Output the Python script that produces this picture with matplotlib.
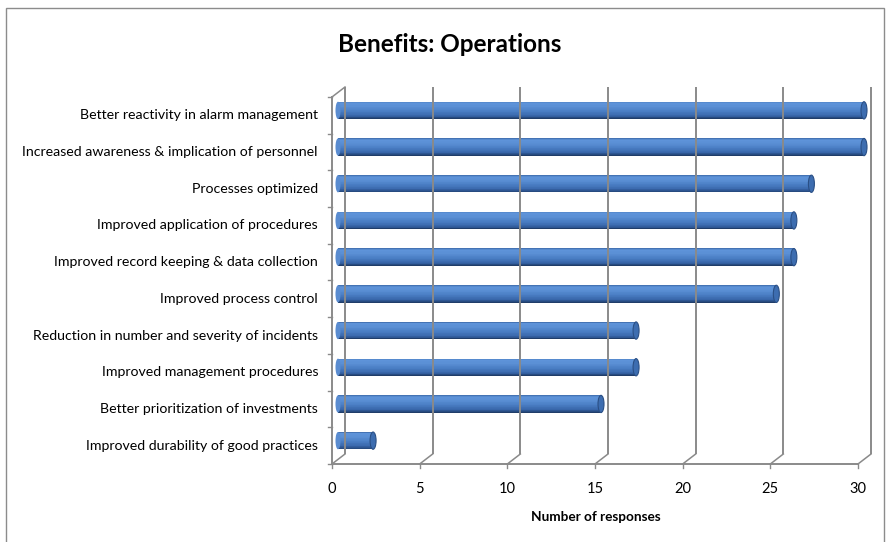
import matplotlib
matplotlib.use("Agg")
import matplotlib.pyplot as plt
import numpy as np
from matplotlib.transforms import offset_copy
from matplotlib.patches import Ellipse, Rectangle
from matplotlib.colors import LinearSegmentedColormap

plt.rcParams['font.family'] = ['Lato', 'DejaVu Sans']

# ---------------- data ----------------
categories = [
    "Better reactivity in alarm management",
    "Increased awareness & implication of personnel",
    "Processes optimized",
    "Improved application of procedures",
    "Improved record keeping & data collection",
    "Improved process control",
    "Reduction in number and severity of incidents",
    "Improved management procedures",
    "Better prioritization of investments",
    "Improved durability of good practices",
]
values = [30, 30, 27, 26, 26, 25, 17, 17, 15, 2]
xticks = [0, 5, 10, 15, 20, 25, 30]
title = "Benefits: Operations"
xlabel = "Number of responses"

W, H = 890, 542
fig = plt.figure(figsize=(W / 100, H / 100), dpi=100)

# chart border
fig.patches.append(Rectangle((6 / W, -0.01), (884 - 6) / W, (H - 8) / H + 0.01,
                             transform=fig.transFigure, fill=False,
                             edgecolor='#8c8c8c', lw=1.0))

# front plane of the plot area
x0, x1 = 332, 858
ytop, ybot = 97, 464
ax = fig.add_axes([x0 / W, (H - ybot) / H, (x1 - x0) / W, (ybot - ytop) / H])
ax.set_xlim(0, 30)
ax.set_ylim(-0.5, len(categories) - 0.5)
ax.axis('off')

grid_c = '#8a8a8a'
DX, DY = 13, 10  # depth offset in pixels
back = offset_copy(ax.transData, fig=fig, x=DX, y=DY, units='dots')
mid = offset_copy(ax.transData, fig=fig, x=6, y=5, units='dots')

ylo, yhi = -0.5, len(categories) - 0.5
# back wall gridlines
for v in xticks:
    ax.plot([v, v], [ylo, yhi], color=grid_c, lw=1.4, transform=back,
            solid_capstyle='butt', clip_on=False)
# floor diagonals
ppu_x = (x1 - x0) / 30.0
ppu_y = (ybot - ytop) / (yhi - ylo)
for v in xticks:
    ax.plot([v, v + DX / ppu_x], [ylo, ylo + DY / ppu_y], color=grid_c, lw=1.1,
            clip_on=False)
# left wall top diagonal
ax.plot([0, DX / ppu_x], [yhi, yhi + DY / ppu_y], color=grid_c, lw=1.1, clip_on=False)
# front axes lines
ax.plot([0, 30], [ylo, ylo], color=grid_c, lw=1.4, clip_on=False)
ax.plot([0, 0], [ylo, yhi], color=grid_c, lw=1.4, clip_on=False)
# ticks
for v in xticks:
    ax.plot([v, v], [ylo, ylo - 4 / ppu_y], color=grid_c, lw=1.0, clip_on=False)
for k in range(len(categories) + 1):
    yy = ylo + k
    ax.plot([0, -4 / ppu_x], [yy, yy], color=grid_c, lw=1.0, clip_on=False)

# cylinder bars
cmap = LinearSegmentedColormap.from_list('cyl', [
    (0.0, '#3b69a8'), (0.08, '#5e93d9'), (0.30, '#5a8fd4'), (0.55, '#4a7ec4'),
    (0.80, '#3a69ad'), (0.92, '#2b528c'), (1.0, '#1c365e')])
bh = 0.47
N = 24
n = len(categories)
for i, (cat, val) in enumerate(zip(categories, values)):
    yc = n - 1 - i
    top = yc + bh / 2
    for s in range(N):
        t = (s + 0.5) / N
        y_s = top - (s + 0.5) * bh / N
        ax.barh(y_s, val, height=bh / N * 1.15, left=0, color=cmap(t),
                linewidth=0, transform=mid, clip_on=False)
    ax.add_patch(Ellipse((0, yc), width=5 / ppu_x, height=bh, facecolor='#5a8cd0',
                         edgecolor='none', transform=mid, clip_on=False))
    ax.add_patch(Ellipse((val, yc), width=6 / ppu_x, height=bh, facecolor='#3d6db0',
                         edgecolor='#2a4f85', lw=0.8, transform=mid, clip_on=False))
    # category label
    ax.text(-14 / ppu_x, yc, cat, ha='right', va='center', fontsize=10.2, color='#000000')

# x tick labels
for v in xticks:
    ax.text(v, ylo - 25 / ppu_y, str(v), ha='center', va='center', fontsize=10.5)

fig.text(596 / W, 1 - 517 / H, xlabel, ha='center', va='center', fontsize=9.8,
         fontweight='bold')
fig.text(450 / W, 1 - 45 / H, title, ha='center', va='center', fontsize=17.5,
         fontweight='bold')

fig.savefig('out.png', dpi=100)
